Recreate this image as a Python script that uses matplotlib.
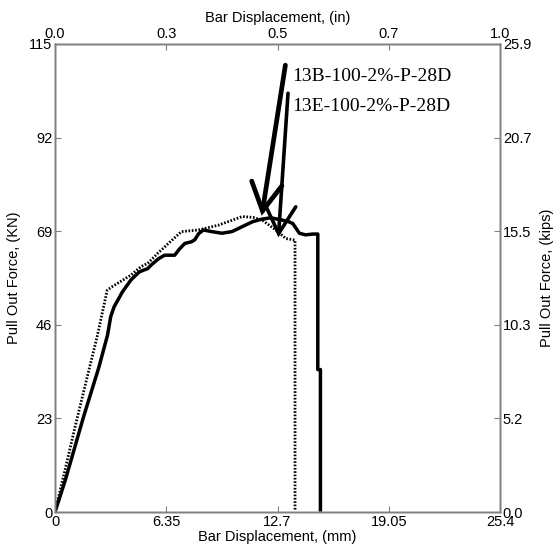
import matplotlib
matplotlib.use("Agg")
import matplotlib.pyplot as plt

# Curva 13B (linha cheia)
disp_b = [0, 0.6, 1.63, 2.5, 3.0, 3.18, 3.37, 3.85, 4.33, 4.81, 5.1, 5.29, 5.49, 5.9, 6.25, 6.83, 7.1, 7.41,
          7.79, 7.98, 8.2, 8.47, 8.95, 9.53, 10.1, 10.68, 11.26, 11.74, 12.3, 12.9, 13.3, 13.57, 13.95,
          14.3, 14.72, 15.0, 15.0, 15.15, 15.15]
force_b = [0, 8.0, 23.4, 35.5, 43.5, 48.0, 50.4, 54.1, 57.0, 59.0, 59.5, 59.8, 60.7, 62.2, 63.1, 63.1, 64.6, 66.0,
           66.4, 66.9, 68.4, 69.3, 68.9, 68.5, 68.9, 70.1, 71.3, 71.9, 72.3, 71.8, 71.4, 70.9, 68.5,
           68.1, 68.3, 68.3, 35.0, 35.0, 0.5]

# Curva 13E (pontilhada)
disp_e = [0, 0.5, 1.15, 1.63, 2.4, 2.98, 3.27, 3.8, 4.33, 4.91, 5.29, 5.87, 6.6, 7.22, 8.18, 9.34,
          10.68, 11.3, 11.84, 12.6, 13.18, 13.7, 13.7]
force_e = [0, 9.0, 21.0, 29.5, 43.0, 54.5, 55.4, 56.8, 58.2, 60.3, 61.1, 63.6, 66.5, 68.9, 69.3, 70.5,
           72.6, 72.4, 71.7, 69.3, 67.2, 66.8, 0.3]

mm_ticks = [0, 6.35, 12.7, 19.05, 25.4]
mm_labels = ["0", "6.35", "12.7", "19.05", "25.4"]
in_labels = ["0.0", "0.3", "0.5", "0.7", "1.0"]
kn_ticks = [0, 23, 46, 69, 92, 115]
kn_labels = ["0", "23", "46", "69", "92", "115"]
kip_labels = ["0.0", "5.2", "10.3", "15.5", "20.7", "25.9"]

label_b = "13B-100-2%-P-28D"
label_e = "13E-100-2%-P-28D"

plt.rcParams['font.family'] = ['Liberation Sans', 'DejaVu Sans']
plt.rcParams['font.size'] = 10.5

fig = plt.figure(figsize=(5.53, 5.55), dpi=100)
ax = fig.add_axes([55/553, 43/555, 445/553, 468/555])

ax.plot(disp_e, force_e, color='black', lw=2.0, linestyle=(0, (0.6, 0.6)))
ax.plot(disp_b, force_b, color='black', lw=2.5, solid_joinstyle='round')

ax.set_xlim(0, 25.4)
ax.set_ylim(0, 115)
ax.set_xticks(mm_ticks)
ax.set_xticklabels(mm_labels)
ax.set_yticks(kn_ticks)
ax.set_yticklabels(kn_labels)
ax.set_xlabel('Bar Displacement, (mm)', labelpad=1)
ax.set_ylabel('Pull Out Force, (KN)', labelpad=6)

ax_top = ax.twiny()
ax_top.set_xlim(0, 25.4)
ax_top.set_xticks(mm_ticks)
ax_top.set_xticklabels(in_labels)
ax_top.set_xlabel('Bar Displacement, (in)', labelpad=4)

ax_right = ax.twinx()
ax_right.set_ylim(0, 115)
ax_right.set_yticks(kn_ticks)
ax_right.set_yticklabels(kip_labels)
ax_right.set_ylabel('Pull Out Force, (kips)', labelpad=6)

for a in (ax, ax_top, ax_right):
    for s in a.spines.values():
        s.set_color('0.5')
        s.set_linewidth(1.0)
    a.tick_params(direction='in', length=4, color='0.5', pad=2)

# etiquetas e setas
ax.text(13.55, 106.9, label_b, family=['Liberation Serif'], fontsize=14, va='center', ha='left')
ax.text(13.55, 99.6, label_e, family=['Liberation Serif'], fontsize=14, va='center', ha='left')
ax.annotate('', xy=(11.8, 72.8), xytext=(13.15, 109.8),
            arrowprops=dict(arrowstyle='->,head_length=1.0,head_width=0.55', lw=3.4, color='black',
                            shrinkA=0, shrinkB=0, mutation_scale=20, joinstyle='miter'))
ax.annotate('', xy=(12.75, 67.5), xytext=(13.3, 102.9),
            arrowprops=dict(arrowstyle='->,head_length=1.0,head_width=0.55', lw=2.6, color='black',
                            shrinkA=0, shrinkB=0, mutation_scale=20, joinstyle='miter'))

plt.savefig('out.png', dpi=100)
